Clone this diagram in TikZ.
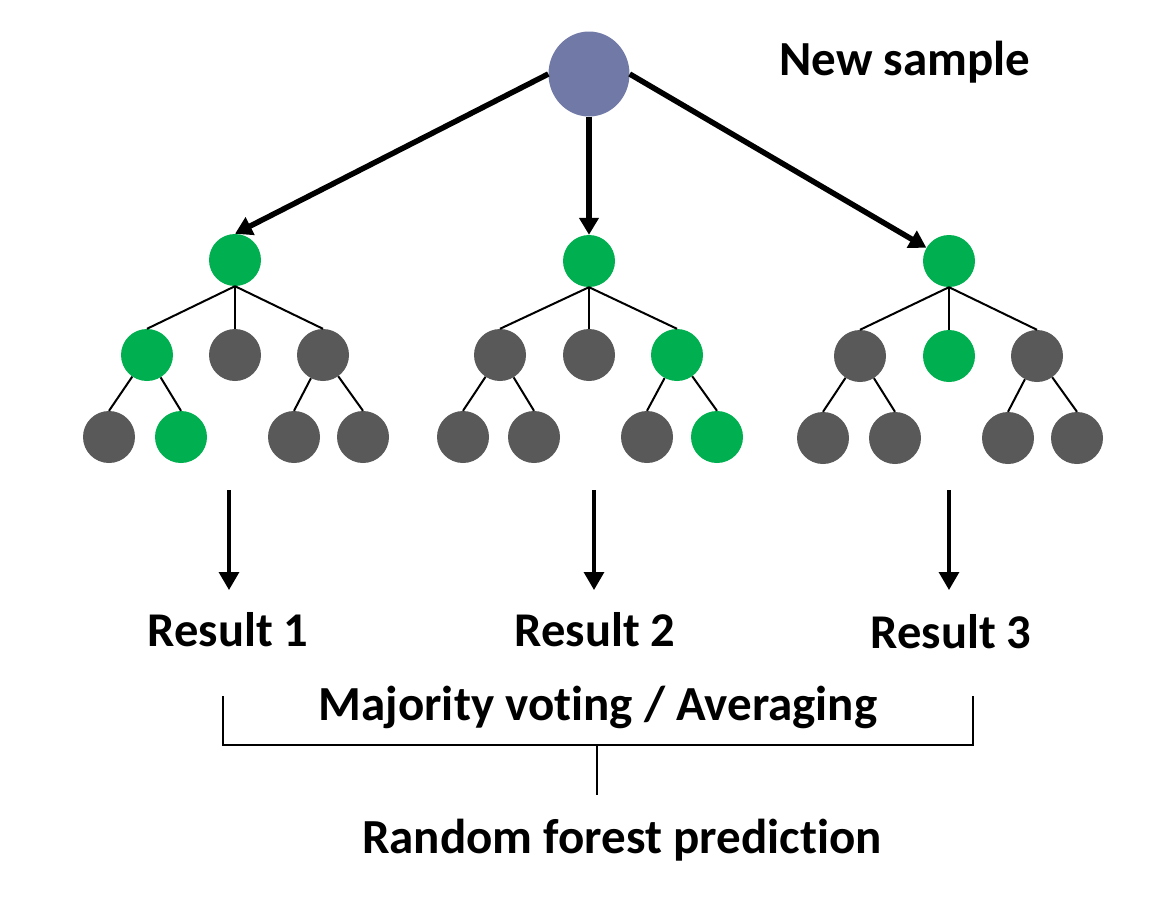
\documentclass[tikz,border=0pt]{standalone}
\usepackage{fontspec}
\setmainfont{Carlito}[Ligatures=NoCommon]
\usetikzlibrary{arrows.meta,shapes.geometric}
\definecolor{topblue}{HTML}{7179A6}
\definecolor{leafgreen}{HTML}{00B050}
\definecolor{leafgray}{HTML}{595959}
\tikzset{
  gnode/.style={circle,fill=leafgreen,inner sep=0pt,minimum size=52pt},
  knode/.style={circle,fill=leafgray,inner sep=0pt,minimum size=52pt},
  tedge/.style={line width=2pt,black},
  bigarrow/.style={line width=5.5pt,-{Triangle[length=17pt,width=19pt]}},
  downarrow/.style={line width=3.2pt,-{Triangle[length=18pt,width=20pt]}},
  lbl/.style={font=\fontsize{49}{54}\selectfont\bfseries,anchor=base,inner sep=0pt},
  reslbl/.style={lbl,font=\fontsize{48.5}{54}\selectfont\bfseries},
  brk/.style={line width=2.5pt,black}
}
\begin{document}
\begin{tikzpicture}[x=1pt,y=-1pt]
\fill[white] (0,0) rectangle (1171,905);
\useasboundingbox (0,0) rectangle (1171,905);

\node[ellipse,fill=topblue,inner sep=0pt,minimum width=81pt,minimum height=85pt] (top) at (589,74) {};
\node[lbl] (newsample) at (905,75) {New sample};

% tree 1
\node[gnode] (r1) at (235,260) {};
\node[gnode] (c11) at (147,355) {};
\node[knode] (c12) at (235,355) {};
\node[knode] (c13) at (323,355) {};
\node[knode] (g11) at (109,437) {};
\node[gnode] (g12) at (181,437) {};
\node[knode] (g13) at (294,437) {};
\node[knode] (g14) at (363,437) {};
% tree 2
\node[gnode] (r2) at (589,261) {};
\node[knode] (c21) at (500,355) {};
\node[knode] (c22) at (589,355) {};
\node[gnode] (c23) at (677,355) {};
\node[knode] (g21) at (463,437) {};
\node[knode] (g22) at (534,437) {};
\node[knode] (g23) at (647,437) {};
\node[gnode] (g24) at (717,437) {};
% tree 3
\node[gnode] (r3) at (949,261) {};
\node[knode] (c31) at (860,356) {};
\node[gnode] (c32) at (949,356) {};
\node[knode] (c33) at (1037,356) {};
\node[knode] (g31) at (823,438) {};
\node[knode] (g32) at (895,438) {};
\node[knode] (g33) at (1008,438) {};
\node[knode] (g34) at (1077,438) {};

% tree edges
\foreach \t in {1,2,3}{
  \draw[tedge] (r\t.south) -- (c\t1.north);
  \draw[tedge] (r\t.south) -- (c\t2.north);
  \draw[tedge] (r\t.south) -- (c\t3.north);
}
\draw[tedge] (c11) -- (g11.north);
\draw[tedge] (c11) -- (g12.north);
\draw[tedge] (c13) -- (g13.north);
\draw[tedge] (c13) -- (g14.north);
\draw[tedge] (c21) -- (g21.north);
\draw[tedge] (c21) -- (g22.north);
\draw[tedge] (c23) -- (g23.north);
\draw[tedge] (c23) -- (g24.north);
\draw[tedge] (c31) -- (g31.north);
\draw[tedge] (c31) -- (g32.north);
\draw[tedge] (c33) -- (g33.north);
\draw[tedge] (c33) -- (g34.north);

% arrows from new sample
\draw[bigarrow] (top.west) -- (r1.north);
\draw[bigarrow] (top.south) -- (r2.north);
\draw[bigarrow] (top.east) -- (r3);

% result arrows
\coordinate (d1s) at (229,490);
\coordinate (d1e) at (229,590);
\coordinate (d2s) at (594,490);
\coordinate (d2e) at (594,590);
\coordinate (d3s) at (949,490);
\coordinate (d3e) at (949,590);
\draw[downarrow] (d1s) -- (d1e);
\draw[downarrow] (d2s) -- (d2e);
\draw[downarrow] (d3s) -- (d3e);

\node[reslbl] (res1) at (228,646) {Result 1};
\node[reslbl] (res2) at (595,646) {Result 2};
\node[reslbl] (res3) at (951,648) {Result 3};

\node[lbl] (vote) at (598,720) {Majority voting / Averaging};

% bracket
\coordinate (bl) at (223,696);
\coordinate (blb) at (223,745);
\coordinate (brb) at (973,745);
\coordinate (br) at (973,696);
\coordinate (stemtop) at (597,745);
\coordinate (stembot) at (597,795);
\draw[brk] (bl) -- (blb) -- (brb) -- (br);
\draw[brk] (stemtop) -- (stembot);

\node[lbl] (pred) at (622,853) {Random forest prediction};
\end{tikzpicture}
\end{document}
